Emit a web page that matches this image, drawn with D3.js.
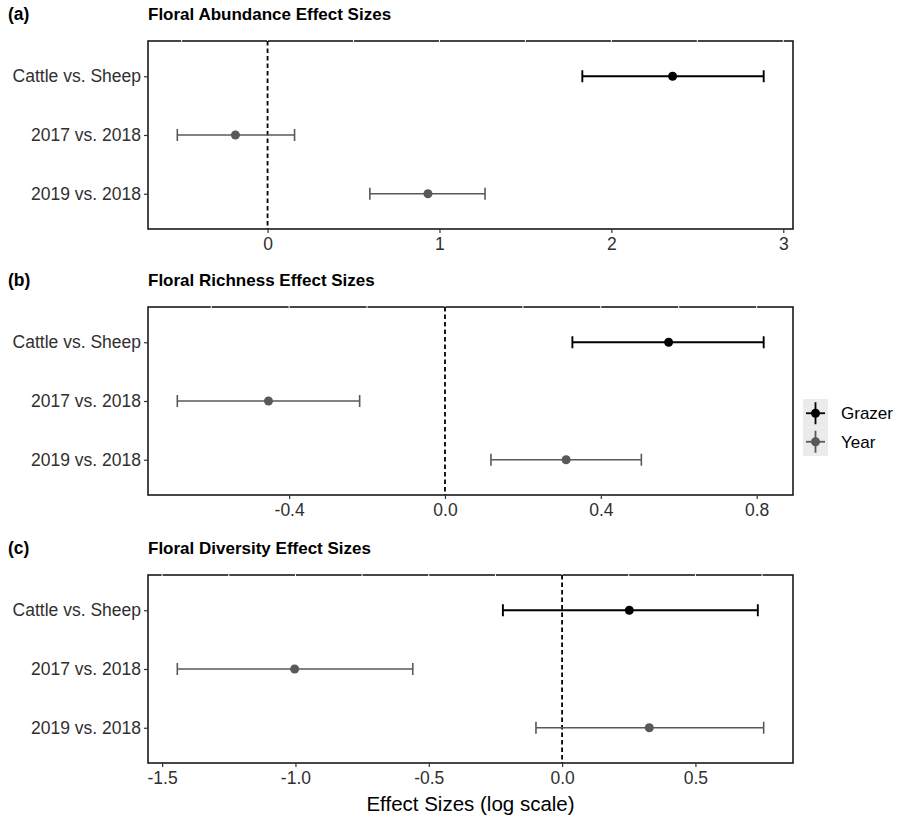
<!DOCTYPE html>
<html>
<head>
<meta charset="utf-8">
<script src="https://cdn.jsdelivr.net/npm/d3@7"></script>
<style>
  body { margin: 0; background: #fff; }
  svg { display: block; font-family: "Liberation Sans", Arial, sans-serif; }
</style>
</head>
<body>
<div id="chart"></div>
<script>
// comparisons, top to bottom
const comparisons = ["Cattle vs. Sheep", "2017 vs. 2018", "2019 vs. 2018"];
const groups = ["Grazer", "Year", "Year"];
const legendLabels = ["Grazer", "Year"];
const groupColors = ["#000000", "#595959"];

// (a) floral abundance
const abundEst = [2.356, -0.187, 0.933];
const abundLo  = [1.831, -0.525, 0.595];
const abundHi  = [2.886,  0.157, 1.265];
const abundTicks = [0, 1, 2, 3];
const abundTickLabels = ["0", "1", "2", "3"];

// (b) floral richness
const richEst = [0.574, -0.453, 0.311];
const richLo  = [0.327, -0.687, 0.118];
const richHi  = [0.818, -0.219, 0.504];
const richTicks = [-0.4, 0, 0.4, 0.8];
const richTickLabels = ["-0.4", "0.0", "0.4", "0.8"];

// (c) floral diversity
const divEst = [0.252, -1.003, 0.327];
const divLo  = [-0.222, -1.443, -0.098];
const divHi  = [0.734, -0.560, 0.756];
const divTicks = [-1.5, -1, -0.5, 0, 0.5];
const divTickLabels = ["-1.5", "-1.0", "-0.5", "0.0", "0.5"];

const panels = [
  { tag: "(a)", title: "Floral Abundance Effect Sizes", est: abundEst, lo: abundLo, hi: abundHi,
    ticks: abundTicks, labels: abundTickLabels, minor: 0.5, top: 41 },
  { tag: "(b)", title: "Floral Richness Effect Sizes", est: richEst, lo: richLo, hi: richHi,
    ticks: richTicks, labels: richTickLabels, minor: 0.2, top: 307 },
  { tag: "(c)", title: "Floral Diversity Effect Sizes", est: divEst, lo: divLo, hi: divHi,
    ticks: divTicks, labels: divTickLabels, minor: 0.25, top: 575 }
];

const W = 907, H = 819;
const left = 148, right = 793, ph = 188;
const axisText = "#303030";
const tickFont = 17.5;

const svg = d3.select("#chart").append("svg")
  .attr("width", W).attr("height", H);

const colorOf = d3.scaleOrdinal().domain(legendLabels).range(groupColors);

panels.forEach(p => {
  const lo = d3.min(p.lo), hi = d3.max(p.hi);
  const pad = (hi - lo) * 0.05;
  const x = d3.scaleLinear().domain([lo - pad, hi + pad]).range([left, right]);
  const y = d3.scalePoint().domain(comparisons).range([p.top, p.top + ph]).padding(0.6);

  const g = svg.append("g");

  // tag + title
  g.append("text").attr("x", 8).attr("y", p.top - 21)
    .attr("font-size", 17.5).attr("font-weight", "bold").text(p.tag);
  g.append("text").attr("x", left).attr("y", p.top - 21)
    .attr("font-size", 17).attr("font-weight", "bold").text(p.title);

  // panel border
  g.append("rect")
    .attr("x", left).attr("y", p.top)
    .attr("width", right - left).attr("height", ph)
    .attr("fill", "none").attr("stroke", "#1a1a1a").attr("stroke-width", 1.6);

  // white grid breaks through the top border
  const d = x.domain();
  const gridVals = d3.range(Math.ceil(d[0] / p.minor) * p.minor, d[1], p.minor);
  g.selectAll(".gap").data(gridVals).join("line")
    .attr("x1", v => x(v)).attr("x2", v => x(v))
    .attr("y1", p.top - 1.5).attr("y2", p.top + 1.5)
    .attr("stroke", "#fff").attr("stroke-width", 1);

  // zero reference line
  g.append("line")
    .attr("x1", x(0)).attr("x2", x(0))
    .attr("y1", p.top).attr("y2", p.top + ph)
    .attr("stroke", "#000").attr("stroke-width", 1.8)
    .attr("stroke-dasharray", "4.5,3");

  // x axis
  const xAxis = g.append("g")
    .attr("transform", `translate(0,${p.top + ph})`)
    .call(d3.axisBottom(x).tickValues(p.ticks)
      .tickFormat((v, i) => p.labels[i]).tickSize(4).tickSizeOuter(0).tickPadding(3));
  xAxis.select(".domain").remove();
  xAxis.selectAll(".tick line").attr("stroke", "#333").attr("stroke-width", 1.2);
  xAxis.selectAll(".tick text").attr("fill", axisText)
    .attr("font-size", tickFont).attr("dy", "0.8em")
    .attr("font-family", "Liberation Sans, Arial, sans-serif");

  // y axis
  const yAxis = g.append("g")
    .attr("transform", `translate(${left},0)`)
    .call(d3.axisLeft(y).tickSize(4).tickPadding(3));
  yAxis.select(".domain").remove();
  yAxis.selectAll(".tick line").attr("stroke", "#333").attr("stroke-width", 1.2);
  yAxis.selectAll(".tick text").attr("fill", axisText)
    .attr("font-size", tickFont)
    .attr("font-family", "Liberation Sans, Arial, sans-serif");

  // error bars + points
  const rows = comparisons.map((c, i) => ({
    c, grp: groups[i], est: p.est[i], lo: p.lo[i], hi: p.hi[i]
  }));
  const cap = 6;
  const bars = g.selectAll(".bar").data(rows).join("g")
    .attr("stroke", r => colorOf(r.grp)).attr("stroke-width", r => r.grp === "Grazer" ? 1.9 : 1.6);
  bars.append("line")
    .attr("x1", r => x(r.lo)).attr("x2", r => x(r.hi))
    .attr("y1", r => y(r.c)).attr("y2", r => y(r.c));
  bars.append("line")
    .attr("x1", r => x(r.lo)).attr("x2", r => x(r.lo))
    .attr("y1", r => y(r.c) - cap).attr("y2", r => y(r.c) + cap);
  bars.append("line")
    .attr("x1", r => x(r.hi)).attr("x2", r => x(r.hi))
    .attr("y1", r => y(r.c) - cap).attr("y2", r => y(r.c) + cap);
  g.selectAll(".pt").data(rows).join("circle")
    .attr("cx", r => x(r.est)).attr("cy", r => y(r.c)).attr("r", 4.5)
    .attr("fill", r => colorOf(r.grp));
});

// x axis title
svg.append("text")
  .attr("x", (left + right) / 2).attr("y", 811)
  .attr("text-anchor", "middle").attr("font-size", 20.5).attr("fill", "#000")
  .text("Effect Sizes (log scale)");

// legend
const lg = svg.append("g").attr("transform", "translate(803,399)");
const keyH = 28.5;
legendLabels.forEach((lab, i) => {
  const k = lg.append("g").attr("transform", `translate(0,${i * keyH})`);
  k.append("rect").attr("width", 25).attr("height", keyH)
    .attr("fill", "#ebebeb");
  const cx = 12.5, cy = keyH / 2;
  k.append("line").attr("x1", 3).attr("x2", 22).attr("y1", cy).attr("y2", cy)
    .attr("stroke", colorOf(lab)).attr("stroke-width", 1.8);
  k.append("line").attr("x1", cx).attr("x2", cx).attr("y1", cy - 11).attr("y2", cy + 11)
    .attr("stroke", colorOf(lab)).attr("stroke-width", 1.8);
  k.append("circle").attr("cx", cx).attr("cy", cy).attr("r", 4.5)
    .attr("fill", colorOf(lab));
  k.append("text").attr("x", 38).attr("y", cy).attr("dy", "0.35em")
    .attr("font-size", 17).attr("fill", "#000").text(lab);
});
</script>
</body>
</html>
